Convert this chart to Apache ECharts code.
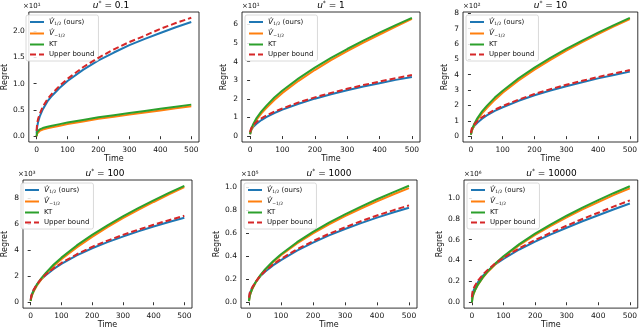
<!DOCTYPE html>
<html><head><meta charset="utf-8">
<script src="https://cdn.jsdelivr.net/npm/echarts@6/dist/echarts.min.js"></script>
<style>html,body{margin:0;padding:0;background:#fff}#c{width:640px;height:330px}</style>
</head><body><div id="c"></div>
<script>
// ---- data ----
const times = [0, 2, 5, 10, 20, 35, 50, 75, 100, 150, 200, 250, 300, 350, 400, 450, 500];
const uStar = ['0.1', '1', '10', '100', '1000', '10000'];
const scaleExp = ['¹', '¹', '²', '³', '⁵', '⁶'];

// u* = 0.1  (×10^1)
const u01_V12  = [0.05, 0.18, 0.27, 0.37, 0.51, 0.66, 0.77, 0.92, 1.05, 1.26, 1.44, 1.59, 1.73, 1.85, 1.96, 2.07, 2.17];
const u01_Vm12 = [0.00, 0.05, 0.08, 0.10, 0.125, 0.15, 0.17, 0.20, 0.23, 0.28, 0.33, 0.37, 0.41, 0.45, 0.49, 0.53, 0.57];
const u01_KT   = [0.00, 0.08, 0.11, 0.13, 0.155, 0.18, 0.20, 0.23, 0.26, 0.31, 0.36, 0.40, 0.44, 0.48, 0.52, 0.56, 0.60];
const u01_UB   = [0.10, 0.25, 0.33, 0.42, 0.56, 0.70, 0.81, 0.96, 1.09, 1.31, 1.49, 1.65, 1.79, 1.91, 2.04, 2.15, 2.25];
// u* = 1  (×10^1)
const u1_V12  = [0.10, 0.25, 0.37, 0.50, 0.66, 0.86, 1.02, 1.24, 1.42, 1.74, 2.01, 2.25, 2.46, 2.66, 2.84, 3.02, 3.18];
const u1_Vm12 = [0.10, 0.25, 0.38, 0.56, 0.88, 1.22, 1.50, 1.94, 2.32, 2.97, 3.55, 4.08, 4.57, 5.02, 5.46, 5.89, 6.30];
const u1_KT   = [0.10, 0.30, 0.45, 0.65, 0.97, 1.33, 1.62, 2.07, 2.45, 3.10, 3.68, 4.20, 4.68, 5.13, 5.56, 5.96, 6.35];
const u1_UB   = [0.20, 0.35, 0.47, 0.60, 0.76, 0.95, 1.10, 1.31, 1.48, 1.81, 2.08, 2.32, 2.54, 2.74, 2.93, 3.11, 3.28];
// u* = 10  (×10^2)
const u10_V12  = [0.10, 0.32, 0.48, 0.65, 0.87, 1.14, 1.35, 1.64, 1.88, 2.30, 2.66, 2.97, 3.25, 3.51, 3.76, 3.98, 4.20];
const u10_Vm12 = [0.10, 0.30, 0.46, 0.68, 1.05, 1.48, 1.83, 2.36, 2.82, 3.62, 4.33, 4.97, 5.57, 6.12, 6.64, 7.14, 7.62];
const u10_KT   = [0.10, 0.35, 0.53, 0.78, 1.16, 1.61, 1.97, 2.51, 2.96, 3.76, 4.46, 5.09, 5.68, 6.22, 6.74, 7.23, 7.70];
const u10_UB   = [0.20, 0.45, 0.60, 0.76, 0.97, 1.23, 1.43, 1.72, 1.96, 2.38, 2.74, 3.06, 3.34, 3.60, 3.85, 4.08, 4.30];
// u* = 100  (×10^3)
const u100_V12  = [0.10, 0.45, 0.68, 0.95, 1.35, 1.78, 2.10, 2.56, 2.95, 3.60, 4.15, 4.62, 5.05, 5.45, 5.82, 6.17, 6.50];
const u100_Vm12 = [0.10, 0.36, 0.57, 0.84, 1.27, 1.77, 2.18, 2.78, 3.30, 4.22, 5.03, 5.77, 6.46, 7.10, 7.71, 8.29, 8.85];
const u100_KT   = [0.10, 0.40, 0.62, 0.90, 1.35, 1.86, 2.28, 2.90, 3.43, 4.37, 5.18, 5.91, 6.60, 7.23, 7.83, 8.41, 8.95];
const u100_UB   = [0.20, 0.50, 0.72, 0.98, 1.38, 1.82, 2.15, 2.62, 3.02, 3.69, 4.26, 4.74, 5.18, 5.58, 5.96, 6.31, 6.65];
// u* = 1000  (×10^5)
const u1000_V12  = [0.02, 0.07, 0.095, 0.125, 0.17, 0.225, 0.265, 0.32, 0.365, 0.448, 0.517, 0.58, 0.635, 0.686, 0.734, 0.778, 0.82];
const u1000_Vm12 = [0.01, 0.05, 0.078, 0.114, 0.168, 0.229, 0.279, 0.348, 0.408, 0.51, 0.597, 0.676, 0.747, 0.813, 0.875, 0.934, 0.99];
const u1000_KT   = [0.01, 0.05, 0.08, 0.117, 0.172, 0.234, 0.285, 0.356, 0.417, 0.521, 0.61, 0.69, 0.762, 0.83, 0.893, 0.953, 1.01];
const u1000_UB   = [0.04, 0.08, 0.10, 0.13, 0.175, 0.23, 0.27, 0.328, 0.376, 0.46, 0.53, 0.594, 0.65, 0.703, 0.752, 0.797, 0.84];
// u* = 10000  (×10^6)
const u10000_V12  = [0.03, 0.08, 0.11, 0.145, 0.195, 0.255, 0.30, 0.365, 0.415, 0.505, 0.58, 0.65, 0.713, 0.775, 0.833, 0.89, 0.945];
const u10000_Vm12 = [0.00, 0.046, 0.077, 0.114, 0.171, 0.237, 0.29, 0.366, 0.433, 0.546, 0.644, 0.732, 0.813, 0.888, 0.959, 1.027, 1.09];
const u10000_KT   = [0.00, 0.047, 0.079, 0.117, 0.174, 0.241, 0.295, 0.373, 0.44, 0.556, 0.656, 0.746, 0.828, 0.905, 0.977, 1.046, 1.11];
const u10000_UB   = [0.05, 0.10, 0.13, 0.16, 0.21, 0.265, 0.31, 0.375, 0.425, 0.517, 0.595, 0.667, 0.733, 0.797, 0.857, 0.917, 0.975];

const xTicks = [0, 100, 200, 300, 400, 500];
const yTicks = [
  [0, 0.5, 1.0, 1.5, 2.0],
  [0, 1, 2, 3, 4, 5, 6],
  [0, 1, 2, 3, 4, 5, 6, 7, 8],
  [0, 2, 4, 6, 8],
  [0, 0.2, 0.4, 0.6, 0.8, 1.0],
  [0, 0.2, 0.4, 0.6, 0.8, 1.0]
];
const yDecimals = [1, 0, 0, 0, 1, 1];
const yRange = [[-0.11, 2.36], [-0.32, 6.67], [-0.38, 8.08], [-0.45, 9.4], [-0.05, 1.06], [-0.056, 1.17]];
const xRange = [-25, 525];

const panelSeries = [
  [u01_V12, u01_Vm12, u01_KT, u01_UB],
  [u1_V12, u1_Vm12, u1_KT, u1_UB],
  [u10_V12, u10_Vm12, u10_KT, u10_UB],
  [u100_V12, u100_Vm12, u100_KT, u100_UB],
  [u1000_V12, u1000_Vm12, u1000_KT, u1000_UB],
  [u10000_V12, u10000_Vm12, u10000_KT, u10000_UB]
];
const seriesNames = ['V12', 'Vm12', 'KT', 'Upper bound'];
const legendLabels = {
  'V12': '{v|V̂}{s|1/2}{t| (ours)}',
  'Vm12': '{v|V̂}{s|−1/2}',
  'KT': 'KT',
  'Upper bound': 'Upper bound'
};
const colors = ['#1f77b4', '#ff7f0e', '#2ca02c', '#d62728'];

// ---- layout ----
const grids = [
  {left: 23, top: 12, width: 176, height: 130},
  {left: 242, top: 12, width: 178, height: 130},
  {left: 463, top: 12, width: 175, height: 130},
  {left: 18, top: 180, width: 174, height: 131},
  {left: 241, top: 180, width: 176, height: 131},
  {left: 464, top: 180, width: 175, height: 131}
];
const FONT = 'DejaVu Sans';

const option = {
  animation: false,
  backgroundColor: '#fff',
  grid: [], xAxis: [], yAxis: [], series: [], legend: [], graphic: []
};

grids.forEach((g, i) => {
  option.grid.push({left: g.left, top: g.top, width: g.width, height: g.height,
    show: true, borderColor: '#000', borderWidth: 0.8, backgroundColor: 'transparent'});
  option.xAxis.push({
    type: 'value', gridIndex: i, min: xRange[0], max: xRange[1],
    name: 'Time', nameLocation: 'middle', nameGap: 12,
    nameTextStyle: {fontFamily: FONT, fontSize: 8, color: '#111'},
    axisLine: {show: false},
    axisTick: {show: true, length: 3, inside: false, customValues: xTicks, lineStyle: {color: '#000', width: 0.8}},
    axisLabel: {customValues: xTicks, fontFamily: FONT, fontSize: 7.5, color: '#111', margin: 4},
    splitLine: {show: false}
  });
  const dec = yDecimals[i];
  option.yAxis.push({
    type: 'value', gridIndex: i, min: yRange[i][0], max: yRange[i][1],
    name: 'Regret', nameLocation: 'middle', nameGap: dec ? 19 : 14,
    nameTextStyle: {fontFamily: FONT, fontSize: 8, color: '#111'},
    axisLine: {show: false},
    axisTick: {show: true, length: 3, inside: false, customValues: yTicks[i], lineStyle: {color: '#000', width: 0.8}},
    axisLabel: {customValues: yTicks[i], fontFamily: FONT, fontSize: 7.5, color: '#111', margin: 4,
      formatter: v => v.toFixed(dec)},
    splitLine: {show: false}
  });
  panelSeries[i].forEach((vals, k) => {
    option.series.push({
      type: 'line', name: seriesNames[k], xAxisIndex: i, yAxisIndex: i,
      data: times.map((t, j) => [t, vals[j]]),
      showSymbol: false, symbol: 'none', smooth: false,
      color: colors[k],
      lineStyle: {color: colors[k], width: 2, type: k === 3 ? [6, 3] : 'solid'},
      z: 2 + k
    });
  });
  option.legend.push({
    orient: 'vertical', left: g.left + 3, top: g.top + 3,
    data: seriesNames, itemWidth: 14, itemHeight: 7, itemGap: 3,
    padding: [3, 4, 3, 3],
    backgroundColor: 'rgba(255,255,255,0.85)', borderColor: '#d0d0d0', borderWidth: 0.8, borderRadius: 2,
    itemStyle: {opacity: 0, borderWidth: 0},
    formatter: n => legendLabels[n],
    textStyle: {fontFamily: FONT, fontSize: 7, color: '#111',
      rich: {
        v: {fontFamily: FONT, fontSize: 7.5, fontStyle: 'italic', color: '#111', lineHeight: 9},
        s: {fontFamily: FONT, fontSize: 4.5, color: '#111', verticalAlign: 'bottom', lineHeight: 9},
        t: {fontFamily: FONT, fontSize: 7, color: '#111', lineHeight: 9}
      }},
    selectedMode: false
  });
  option.graphic.push({
    type: 'text', x: g.left + g.width / 2, y: g.top - 6,
    style: {
      text: '{i|u}{s|*}{n| = ' + uStar[i] + '}',
      textAlign: 'center', textVerticalAlign: 'middle',
      rich: {
        i: {fontFamily: FONT, fontSize: 9, fontStyle: 'italic', fill: '#000', lineHeight: 11},
        s: {fontFamily: FONT, fontSize: 6, fill: '#000', verticalAlign: 'top', lineHeight: 11},
        n: {fontFamily: FONT, fontSize: 9, fill: '#000', lineHeight: 11}
      }
    }
  });
  option.graphic.push({
    type: 'text', x: g.left, y: g.top - 6,
    style: {text: '×10' + scaleExp[i], fontFamily: FONT, fontSize: 7, fill: '#111',
      textAlign: 'left', textVerticalAlign: 'middle'}
  });
});

const chart = echarts.init(document.getElementById('c'), null, {renderer: 'canvas'});
chart.setOption(option);
</script>
</body></html>
